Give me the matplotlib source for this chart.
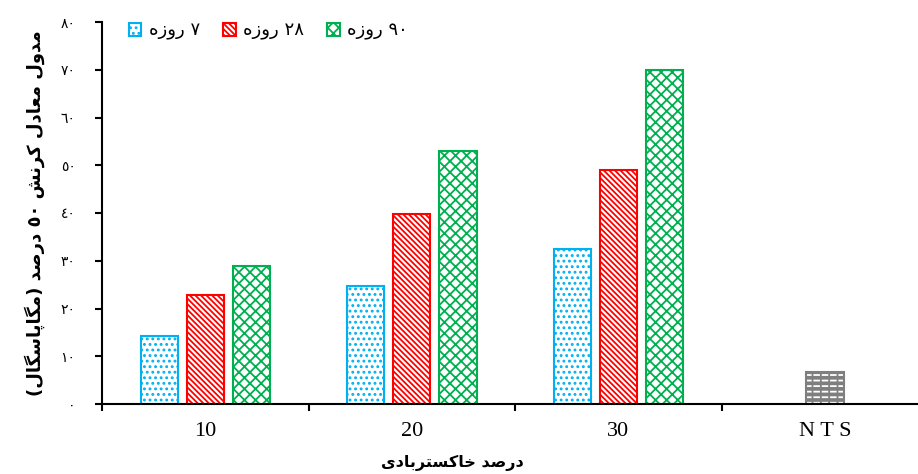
import matplotlib
matplotlib.use('Agg')
import matplotlib.pyplot as plt
import numpy as np

# data
categories = ['10', '20', '30', 'N T S']
days = ['٧', '٢٨', '٩٠']
values_7 = [14.2, 24.7, 32.5]
values_28 = [22.8, 39.8, 49.0]
values_90 = [28.9, 53.0, 70.0]
nts_value = 6.7
yticks = [0, 10, 20, 30, 40, 50, 60, 70, 80]

# --- tiny Persian shaper (matplotlib has no RTL/joining support) ---
FORMS = {
    'ا': ('\uFE8D', '\uFE8E', None, None),
    'ب': ('\uFE8F', '\uFE90', '\uFE91', '\uFE92'),
    'پ': ('\uFB56', '\uFB57', '\uFB58', '\uFB59'),
    'ت': ('\uFE95', '\uFE96', '\uFE97', '\uFE98'),
    'خ': ('\uFEA5', '\uFEA6', '\uFEA7', '\uFEA8'),
    'د': ('\uFEA9', '\uFEAA', None, None),
    'ر': ('\uFEAD', '\uFEAE', None, None),
    'ز': ('\uFEAF', '\uFEB0', None, None),
    'س': ('\uFEB1', '\uFEB2', '\uFEB3', '\uFEB4'),
    'ش': ('\uFEB5', '\uFEB6', '\uFEB7', '\uFEB8'),
    'ص': ('\uFEB9', '\uFEBA', '\uFEBB', '\uFEBC'),
    'ع': ('\uFEC9', '\uFECA', '\uFECB', '\uFECC'),
    'ک': ('\uFB8E', '\uFB8F', '\uFB90', '\uFB91'),
    'گ': ('\uFB92', '\uFB93', '\uFB94', '\uFB95'),
    'ل': ('\uFEDD', '\uFEDE', '\uFEDF', '\uFEE0'),
    'م': ('\uFEE1', '\uFEE2', '\uFEE3', '\uFEE4'),
    'ن': ('\uFEE5', '\uFEE6', '\uFEE7', '\uFEE8'),
    'ه': ('\uFEE9', '\uFEEA', '\uFEEB', '\uFEEC'),
    'و': ('\uFEED', '\uFEEE', None, None),
    'ی': ('\uFBFC', '\uFBFD', '\uFBFE', '\uFBFF'),
}
DIGITS = '٠١٢٣٤٥٦٧٨٩'


def fa(text):
    out = []
    for i, c in enumerate(text):
        if c not in FORMS:
            out.append(c)
            continue
        prev = text[i - 1] if i > 0 else ''
        nxt = text[i + 1] if i + 1 < len(text) else ''
        joins_prev = prev in FORMS and FORMS[prev][2] is not None
        joins_next = FORMS[c][2] is not None and nxt in FORMS
        iso, fin, ini, med = FORMS[c]
        if joins_prev and joins_next:
            out.append(med)
        elif joins_prev:
            out.append(fin)
        elif joins_next:
            out.append(ini)
        else:
            out.append(iso)
    vis = ''.join(reversed(out))
    vis = vis.translate(str.maketrans('()', ')('))
    # keep digit runs left-to-right
    res, run = '', ''
    for c in vis:
        if c in DIGITS:
            run += c
        else:
            res += run[::-1] + c
            run = ''
    return res + run[::-1]


def ar_num(n):
    return ''.join(DIGITS[int(d)] for d in str(n))


plt.rcParams['hatch.linewidth'] = 1.3

fig = plt.figure(figsize=(9.18, 4.74), dpi=100)
ax = fig.add_axes([102 / 918, 70 / 474, 816 / 918, 382 / 474])

x = np.arange(3)
width = 0.18
gap = 0.223

b7 = ax.bar(x - gap, values_7, width, color='white', edgecolor='#00B0F0', hatch='...', linewidth=1.5)
b28 = ax.bar(x, values_28, width, color='white', edgecolor='#FF0000', hatch='\\' * 6, linewidth=1.5)
b90 = ax.bar(x + gap, values_90, width, color='white', edgecolor='#00B050', hatch='xxx', linewidth=1.5)

# NTS bar: grey with white dashes, grey border
ax.bar([3], [nts_value], width, color='#7F7F7F', edgecolor='white', hatch='---', linewidth=0)
ax.bar([3], [nts_value], width, fill=False, edgecolor='#7F7F7F', hatch='||', linewidth=1.5)

ax.set_xlim(-0.5, 3.45)
ax.set_ylim(0, 80)

# ticks at category boundaries, labels centred
ax.set_xticks(np.arange(-0.5, 3.5, 1))
ax.set_xticklabels([])
ax.set_xticks(np.arange(4), minor=True)
ax.set_xticklabels(categories, minor=True, fontsize=16, family='Liberation Serif')
ax.tick_params(axis='x', which='major', direction='out', length=5, width=1.5)
ax.tick_params(axis='x', which='minor', length=0, pad=13)

ax.set_yticks(yticks)
ax.set_yticklabels([ar_num(v) for v in yticks], fontsize=10, family='DejaVu Sans')
ax.tick_params(axis='y', direction='out', length=5, width=1.5, pad=14)

for s in ['top', 'right']:
    ax.spines[s].set_visible(False)
ax.spines['left'].set_linewidth(1.5)
ax.spines['bottom'].set_linewidth(1.5)

ax.set_xlabel(fa('درصد خاکستربادی'), fontsize=11.5, fontweight='bold', family='DejaVu Sans')
ax.xaxis.set_label_coords((452 - 102) / 816, -0.133)
ax.set_ylabel(fa('مدول معادل کرنش ٥٠ درصد (مگاپاسگال)'), fontsize=13, fontweight='bold',
              family='DejaVu Sans')
ax.yaxis.set_label_coords(-0.07, 0.5)

labels = [fa(d + ' روزه') for d in days]
ax.legend([b7[0], b28[0], b90[0]], labels, loc='upper left', bbox_to_anchor=(0.024, 1.02),
          ncol=3, frameon=False, handlelength=0.7, handleheight=0.7, handletextpad=0.4,
          columnspacing=1.3, borderaxespad=0, prop={'family': 'DejaVu Sans', 'size': 13})

fig.savefig('out.png', dpi=100)
